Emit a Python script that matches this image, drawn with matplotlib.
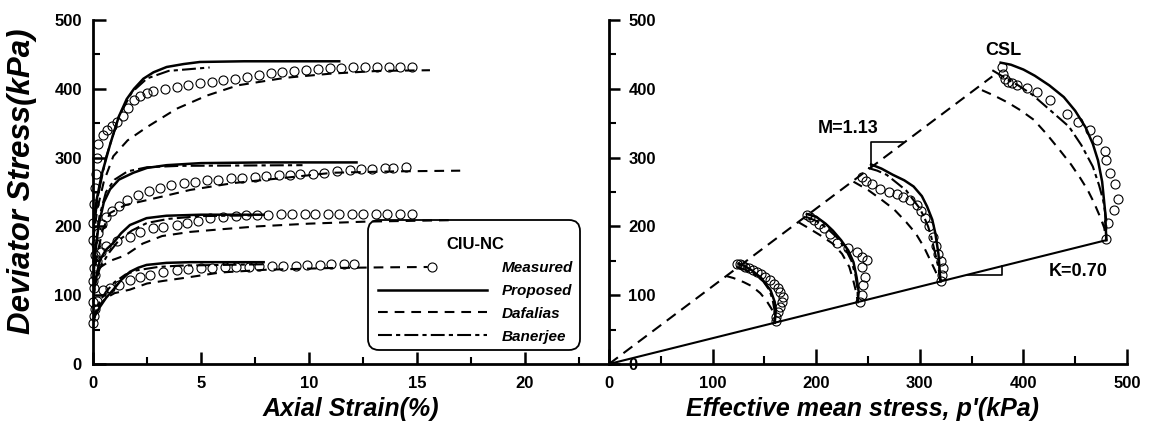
import matplotlib
matplotlib.use("Agg")
import matplotlib.pyplot as plt
from matplotlib.ticker import MultipleLocator
from matplotlib.lines import Line2D
from matplotlib.patches import FancyBboxPatch
from matplotlib.transforms import IdentityTransform

plt.rcParams['font.family'] = ['Liberation Sans', 'DejaVu Sans']
plt.rcParams['lines.scale_dashes'] = False

# ---------------- Left panel: deviator stress vs axial strain ----------------
# Test 1 (p0 = 160 kPa)
e_prop1 = [0, 0.1, 0.32, 0.6, 0.94, 1.3, 1.71, 2.1, 2.48, 3.4, 4.5, 7.9]
q_prop1 = [62, 71, 83, 96, 108, 122, 134, 140, 144, 147, 148, 148]
e_daf1 = [0, 0.2, 0.6, 1.0, 1.7, 2.5, 3.3, 4.2, 5.9, 8.0, 11.0, 13.5, 15.5]
q_daf1 = [60, 82, 96, 103, 108, 117, 121, 125, 133, 137, 139.5, 140.5, 141]
e_ban1 = [0, 0.1, 0.3, 0.6, 1.0, 1.5, 2.0, 3.0, 4.0, 8.0]
q_ban1 = [60, 74, 90, 105, 119, 130, 136, 141, 143, 145]
e_meas1 = [0, 0.03, 0.1, 0.2, 0.47, 0.79, 1.2, 1.71, 2.18, 2.64, 3.24, 3.87, 4.4, 5.0,
           5.5, 6.1, 6.6, 7.2, 7.7, 8.3, 8.8, 9.4, 9.9, 10.5, 11.0, 11.6, 12.1]
q_meas1 = [60, 70, 80, 92, 107.6, 110, 115, 122, 127, 129, 134, 136.6, 138, 139,
           140, 140.5, 141, 141.5, 142, 142, 143, 143, 144, 144, 145, 145, 145]

# Test 2 (p0 = 240 kPa)
e_prop2 = [0, 0.1, 0.32, 0.6, 0.94, 1.3, 1.71, 2.48, 3.4, 5.0, 7.9]
q_prop2 = [92, 120, 151, 166, 176, 190, 202, 212, 215.5, 217, 217]
e_daf2 = [0, 0.1, 0.3, 0.8, 1.5, 2.3, 3.2, 4.5, 6.0, 7.6, 10.0, 12.7, 16.5]
q_daf2 = [90, 120, 140, 150, 158, 175, 186, 192, 196, 200, 204, 207, 209]
e_ban2 = [0, 0.1, 0.3, 0.7, 1.2, 1.8, 2.5, 3.5, 5.0, 7.5]
q_ban2 = [90, 115, 138, 160, 180, 194, 205, 211, 215, 216]
e_meas2 = [0, 0.05, 0.1, 0.2, 0.35, 0.6, 1.1, 1.71, 2.18, 2.8, 3.24, 3.87, 4.34, 4.87,
           5.42, 6.0, 6.6, 7.1, 7.6, 8.1, 8.7, 9.2, 9.8, 10.3, 10.9, 11.4, 12.0, 12.5,
           13.1, 13.6, 14.2, 14.76]
q_meas2 = [90, 110, 130, 150, 163, 172, 179, 185, 192, 197.6, 199.6, 202, 204.5, 208,
           211.8, 214, 215, 216, 217, 217, 217.5, 217.5, 218, 218, 218, 218, 218, 218,
           218.5, 218.5, 218.5, 218.5]

# Test 3 (p0 = 320 kPa)
e_prop3 = [0, 0.1, 0.25, 0.5, 0.79, 1.2, 1.87, 2.5, 3.41, 5.0, 8.0, 12.2]
q_prop3 = [120, 160, 200, 235, 254, 268, 278, 285, 289, 292, 293, 293]
e_daf3 = [0, 0.2, 0.45, 0.79, 1.5, 2.95, 4.5, 6.5, 9.0, 11.1, 14.0, 17.0]
q_daf3 = [120, 160, 195, 219.5, 231, 241.5, 253, 263, 271, 278, 280, 281]
e_ban3 = [0, 0.1, 0.3, 0.6, 1.0, 1.6, 2.5, 4.0, 9.7]
q_ban3 = [120, 165, 215, 250, 268, 280, 286, 288, 289]
e_meas3 = [0.0, 0.03, 0.08, 0.15, 0.25, 0.4, 0.6, 0.9, 1.2, 1.56, 2.1, 2.6, 3.1, 3.6,
           4.2, 4.7, 5.3, 5.8, 6.4, 6.9, 7.5, 8.0, 8.6, 9.1, 9.6, 10.2, 10.7, 11.3,
           11.9, 12.4, 12.9, 13.5, 13.9, 14.5]
q_meas3 = [120, 140, 158, 175, 190, 203, 213, 222, 230, 239, 246, 252, 256, 260,
           263, 265, 267, 268, 270, 271, 272, 273, 274, 275, 275.6, 276, 278, 280,
           282, 283, 284, 285, 285.4, 286]

# Test 4 (p0 = 480 kPa)
e_prop4 = [0, 0.05, 0.17, 0.4, 0.8, 1.2, 1.56, 1.9, 2.33, 2.8, 3.41, 4.2, 4.95, 7.0, 11.4]
q_prop4 = [180, 210, 239, 275, 320, 360, 385, 400, 414.6, 424, 431.7, 436, 439, 440, 440]
e_daf4 = [0, 0.2, 0.5, 0.94, 1.6, 2.48, 3.2, 3.87, 5.26, 6.7, 8.9, 11.0, 13.2, 15.6]
q_daf4 = [180, 225, 265, 302, 325, 344, 358, 371, 390, 405, 416, 422, 426, 427]
e_ban4 = [0, 0.2, 0.6, 1.2, 1.8, 2.5, 3.5, 5.4]
q_ban4 = [180, 240, 300, 360, 395, 415, 426, 431]
e_meas4 = [0.0, 0.02, 0.05, 0.08, 0.12, 0.17, 0.25, 0.45, 0.63, 0.9, 1.1, 1.4, 1.64, 1.9,
           2.18, 2.5, 2.79, 3.33, 3.87, 4.41, 4.95, 5.5, 6.04, 6.59, 7.13, 7.68, 8.23,
           8.77, 9.32, 9.86, 10.41, 10.96, 11.5, 12.05, 12.59, 13.14, 13.69, 14.23, 14.78]
q_meas4 = [180, 205, 232, 256, 276, 300, 320, 333, 340, 346, 352, 360, 372, 383,
           389, 394, 397, 400, 403, 405, 408, 410.5, 413, 414, 416.7, 420, 422.5,
           424.9, 425.9, 427.3, 428.3, 429.7, 429.7, 431, 431, 431, 432, 432, 432]

# ---------------- Right panel: stress paths p'-q ----------------
p_prop1 = [160, 161, 160, 156, 147, 138, 130, 125]
q_prop1p = [60, 78, 90, 107, 125, 136, 143, 146]
p_daf1 = [113, 120, 130, 138, 146, 152, 157, 160, 160]
q_daf1p = [128, 125, 119, 113, 103, 92, 80, 68, 60]
p_ban1 = [123, 132, 141, 149, 155, 158, 160, 160]
q_ban1p = [141, 137, 130, 120, 107, 93, 76, 60]
p_meas1 = [124, 126, 128, 131, 135, 139, 143, 147, 151, 155, 159, 163, 165, 168, 167, 165, 163, 161, 161]
q_meas1p = [146, 145, 144, 141, 139, 137, 134, 131, 127, 122, 117, 110, 104, 97, 90, 83, 75, 68, 62]

p_prop2 = [191, 200, 209, 216, 224, 231, 236, 239, 241, 240]
q_prop2p = [218, 214, 204, 194, 180, 165, 148, 126, 105, 90]
p_daf2 = [183, 191, 203, 216, 225, 232, 236, 239, 240]
q_daf2p = [206, 199, 188, 175, 160, 141, 120, 102, 90]
p_ban2 = [190, 200, 210, 220, 228, 234, 238, 240, 240]
q_ban2p = [214, 208, 198, 184, 168, 150, 128, 108, 90]
p_meas2 = [191, 194, 198, 203, 208, 213, 220, 231, 239, 244, 249, 244, 247, 245, 244, 242]
q_meas2p = [216, 213, 209, 204, 197, 189, 176, 168, 163, 156, 151, 141, 127, 115, 100, 90]

p_prop3 = [253, 263, 274, 285, 294, 302, 307, 312, 315, 318, 319, 320]
q_prop3p = [290, 284, 275, 267, 258, 244, 229, 210, 190, 160, 140, 120]
p_daf3 = [236, 250, 262, 275, 287, 296, 304, 311, 316, 319, 320]
q_daf3p = [265, 253, 240, 225, 206, 190, 170, 148, 132, 125, 120]
p_ban3 = [250, 259, 268, 278, 287, 294, 300, 304, 308, 311, 315, 318, 320]
q_ban3p = [285, 281, 275, 263, 252, 238, 226, 214, 200, 185, 160, 140, 120]
p_meas3 = [244, 248, 254, 262, 270, 278, 284, 291, 297, 301, 305, 309, 313, 316, 318, 320, 322, 321, 320]
q_meas3p = [272, 266, 262, 255, 250, 247, 243, 238, 231, 223, 212, 200, 185, 172, 160, 150, 139, 130, 121]

p_prop4 = [378, 388, 400, 411, 425, 439, 450, 460, 467, 472, 476, 479, 480]
q_prop4p = [438, 435, 428, 419, 405, 388, 368, 344, 320, 296, 265, 220, 180]
p_daf4 = [360, 372, 385, 397, 410, 422, 435, 446, 455, 462, 468, 474, 478, 480]
q_daf4p = [398, 390, 380, 369, 355, 335, 311, 290, 270, 253, 235, 214, 198, 180]
p_ban4 = [370, 381, 395, 409, 425, 444, 456, 467, 473, 477, 480, 480]
q_ban4p = [427, 417, 405, 391, 370, 345, 318, 287, 260, 238, 210, 180]
p_meas4 = [379, 380, 382, 385, 389, 394, 403, 413, 426, 442, 453, 464, 471, 479, 480, 484, 488, 491, 487, 482, 480]
q_meas4p = [432, 422, 414, 410, 408, 405, 401, 396, 384, 364, 352, 340, 326, 309, 296, 277, 262, 240, 224, 205, 182]

# reference lines and annotations
csl_p = [0, 370]
csl_q = [0, 418]
k_p = [0, 480]
k_q = [0, 180]
m_tri_p = [252.8, 252.8, 283.7]
m_tri_q = [285.7, 322.4, 322.4]
k_tri_p = [345.7, 379.4, 379.4]
k_tri_q = [129.6, 129.6, 142.3]

legend_labels = ['Measured', 'Proposed', 'Dafalias', 'Banerjee']
legend_title = 'CIU-NC'

# ---------------- styles ----------------
prop_style = dict(color='k', lw=1.8, ls='-')
daf_style = dict(color='k', lw=1.5, dashes=(7, 5))
ban_style = dict(color='k', lw=1.5, dashes=(10, 3, 3, 3))
meas_style = dict(ls='none', marker='o', ms=6.5, mfc='none', mec='k', mew=0.8)
tick_font = dict(family='Liberation Sans', weight='bold', size=12)

W, H = 1152, 428
fig = plt.figure(figsize=(W / 100, H / 100), dpi=100)


def px_rect(x0, y_top, x1, y_bot):
    return [x0 / W, 1 - y_bot / H, (x1 - x0) / W, (y_bot - y_top) / H]


axL = fig.add_axes(px_rect(93, 20, 609, 364))
axR = fig.add_axes(px_rect(609, 20, 1127, 364))

# ---- left panel ----
left_sets = [
    (e_prop1, q_prop1, e_daf1, q_daf1, e_ban1, q_ban1, e_meas1, q_meas1),
    (e_prop2, q_prop2, e_daf2, q_daf2, e_ban2, q_ban2, e_meas2, q_meas2),
    (e_prop3, q_prop3, e_daf3, q_daf3, e_ban3, q_ban3, e_meas3, q_meas3),
    (e_prop4, q_prop4, e_daf4, q_daf4, e_ban4, q_ban4, e_meas4, q_meas4),
]
for ep, qp, ed, qd, eb, qb, em, qm in left_sets:
    axL.plot(ed, qd, **daf_style)
    axL.plot(eb, qb, **ban_style)
    axL.plot(ep, qp, **prop_style)
    axL.plot(em, qm, clip_on=False, **meas_style)

axL.set_xlim(0, 516 / 21.6)
axL.set_ylim(0, 500)
for s in ['top', 'right']:
    axL.spines[s].set_visible(False)
for s in ['left', 'bottom']:
    axL.spines[s].set_linewidth(2.0)
axL.xaxis.set_major_locator(MultipleLocator(5))
axL.xaxis.set_minor_locator(MultipleLocator(2.5))
axL.yaxis.set_major_locator(MultipleLocator(100))
axL.yaxis.set_minor_locator(MultipleLocator(50))
axL.tick_params(axis='both', which='major', direction='in', length=9, width=1.8)
axL.tick_params(axis='both', which='minor', direction='in', length=5, width=1.5)
axL.tick_params(axis='x', which='major', pad=9)
axL.tick_params(axis='y', which='major', pad=8)
for lab in axL.get_xticklabels() + axL.get_yticklabels():
    lab.set_fontproperties(tick_font)
axL.set_xlabel('Axial Strain(%)', fontsize=18, fontweight='bold', fontstyle='italic')
axL.set_ylabel('Deviator Stress(kPa)', fontsize=22.5, fontweight='bold', fontstyle='italic')
axL.xaxis.set_label_coords(0.5, -0.096)
axL.yaxis.set_label_coords(-0.1085, 0.53)

# legend (frame drawn separately as a rounded box, lines may pass through)
handles = [Line2D([], [], **meas_style), Line2D([], [], **prop_style),
           Line2D([], [], **daf_style), Line2D([], [], **ban_style)]
leg = axL.legend(handles, legend_labels,
                 title=legend_title, loc='upper left', bbox_to_anchor=(0.535, 0.3953),
                 borderaxespad=0, frameon=False, numpoints=1,
                 prop=dict(family='Liberation Sans', weight='bold', style='italic', size=11),
                 title_fontproperties=dict(family='Liberation Sans', weight='bold', size=12),
                 handlelength=7.1, handletextpad=1.0, labelspacing=0.58, borderpad=0.6)
box = FancyBboxPatch((368, H - 350), 580 - 368, 350 - 220,
                     boxstyle='round,pad=0,rounding_size=11',
                     transform=IdentityTransform(), facecolor='none',
                     edgecolor='k', linewidth=1.3)
fig.patches.append(box)

# ---- right panel ----
axR.plot(csl_p, csl_q, color='k', lw=1.5, dashes=(8, 5))
axR.plot(k_p, k_q, color='k', lw=1.5)
axR.plot(m_tri_p, m_tri_q, color='k', lw=1.2)
axR.plot(k_tri_p, k_tri_q, color='k', lw=1.2)

right_sets = [
    (p_prop1, q_prop1p, p_daf1, q_daf1p, p_ban1, q_ban1p, p_meas1, q_meas1p),
    (p_prop2, q_prop2p, p_daf2, q_daf2p, p_ban2, q_ban2p, p_meas2, q_meas2p),
    (p_prop3, q_prop3p, p_daf3, q_daf3p, p_ban3, q_ban3p, p_meas3, q_meas3p),
    (p_prop4, q_prop4p, p_daf4, q_daf4p, p_ban4, q_ban4p, p_meas4, q_meas4p),
]
for pp, qp, pd, qd, pb, qb, pm, qm in right_sets:
    axR.plot(pd, qd, **daf_style)
    axR.plot(pb, qb, **ban_style)
    axR.plot(pp, qp, **prop_style)
    axR.plot(pm, qm, clip_on=False, **meas_style)

ann_font = dict(fontsize=13, fontweight='bold', ha='center', va='center')
axR.text(381, 456, 'CSL', **ann_font)
axR.text(230.5, 342.8, 'M=1.13', **ann_font)
axR.text(452.8, 134.5, 'K=0.70', **ann_font)

axR.set_xlim(0, 500)
axR.set_ylim(0, 500)
for s in ['top', 'left']:
    axR.spines[s].set_visible(False)
axR.spines['right'].set_position(('axes', 0))
axR.spines['right'].set_linewidth(2.0)
axR.spines['bottom'].set_linewidth(2.0)
axR.yaxis.tick_right()
axR.xaxis.set_major_locator(MultipleLocator(100))
axR.xaxis.set_minor_locator(MultipleLocator(50))
axR.yaxis.set_major_locator(MultipleLocator(100))
axR.yaxis.set_minor_locator(MultipleLocator(50))
axR.tick_params(axis='x', which='major', direction='in', length=11, width=1.8, pad=9)
axR.tick_params(axis='x', which='minor', direction='in', length=6, width=1.5)
axR.tick_params(axis='y', which='major', direction='out', length=8, width=1.8, pad=6)
axR.tick_params(axis='y', which='minor', direction='out', length=5, width=1.5)
for lab in axR.get_xticklabels() + axR.get_yticklabels():
    lab.set_fontproperties(tick_font)
axR.set_xlabel("Effective mean stress, p'(kPa)", fontsize=18, fontweight='bold', fontstyle='italic')
axR.xaxis.set_label_coords(0.49, -0.096)

fig.savefig('out.png', dpi=100)
